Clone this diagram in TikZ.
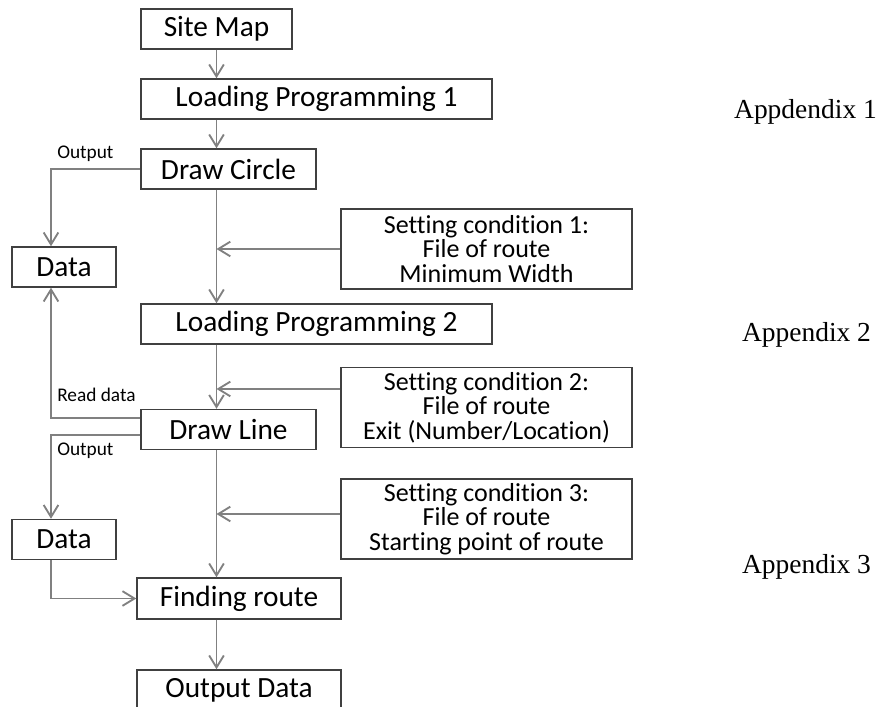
\documentclass[tikz,border=0pt]{standalone}
\usepackage{fontspec}
\setmainfont{Carlito}[Ligatures=NoCommon]
\newfontfamily\apxfont{Liberation Serif}
\usetikzlibrary{arrows.meta, positioning}
\definecolor{boxgray}{RGB}{64,64,64}
\definecolor{linegray}{RGB}{128,128,128}

\begin{document}
\begin{tikzpicture}[
      x=0.75pt, y=-0.75pt,
      box/.style={rectangle, draw=boxgray, line width=1.1pt, inner sep=0pt,
                  font=\fontsize{22}{24}\selectfont, minimum height=30pt},
      setbox/.style={rectangle, draw=boxgray, line width=1.1pt, inner sep=0pt,
                     font=\fontsize{19.5}{18.5}\selectfont, align=center,
                     minimum width=218.25pt, minimum height=60pt},
      lbl/.style={font=\fontsize{14.5}{16}\selectfont, inner sep=0pt, anchor=west},
      apx/.style={font=\apxfont\fontsize{20.6}{22}\selectfont, inner sep=0pt},
      arr/.style={-{Straight Barb[length=9pt,width=11pt]}, draw=linegray, line width=1.4pt},
      ]
    \useasboundingbox (0,0) rectangle (884,706);
    \clip (0,0) rectangle (884,706);

    \node[box, minimum width=113.25pt] (smap) at (216.5,29) {Site Map};
    \node[box, minimum width=263.25pt] (lp1) at (316.5,99) {Loading Programming 1};
    \node[box, minimum width=131.25pt] (dcircle) at (228.5,169) {Draw Circle};
    \node[box, minimum width=78pt] (data1) at (64,267) {Data};
    \node[setbox] (set1) at (486.5,249) {Setting condition 1:\\File of route\\Minimum Width};
    \node[box, minimum width=263.25pt] (lp2) at (316.5,324) {Loading Programming 2};
    \node[setbox] (set2) at (486.5,407.5) {Setting condition 2:\\File of route\\Exit (Number/Location)};
    \node[box, minimum width=131.25pt] (dline) at (228.5,429.5) {Draw Line};
    \node[setbox] (set3) at (486.5,519) {Setting condition 3:\\File of route\\Starting point of route};
    \node[box, minimum width=78pt] (data2) at (64,539.5) {Data};
    \node[box, minimum width=153pt, minimum height=30.75pt] (froute) at (239,598.5) {Finding route};
    \node[box, minimum width=153pt, minimum height=30.75pt] (odata) at (239,690.5) {Output Data};

    \node[lbl] (out1) at (57,154) {Output};
    \node[lbl] (rdata) at (57,395) {Read data};
    \node[lbl] (out2) at (57,451) {Output};

    \node[apx] (apx1) at (805.5,112) {Appdendix 1};
    \node[apx] (apx2) at (806.5,335) {Appendix 2};
    \node[apx] (apx3) at (806.5,567) {Appendix 3};

    \coordinate (s2in) at ([yshift=13.9pt]set2.west);
    \coordinate (s3in) at ([yshift=3.75pt]set3.west);
    \coordinate (rdout) at ([yshift=8.6pt]dline.west);
    \coordinate (o2out) at ([yshift=-4.1pt]dline.west);

    % main column
    \draw[arr] (smap.south) -- (smap.south |- lp1.north);
    \draw[arr] (smap.south |- lp1.south) -- (smap.south |- dcircle.north);
    \draw[arr] (smap.south |- dcircle.south) -- (smap.south |- lp2.north);
    \draw[arr] (smap.south |- lp2.south) -- (smap.south |- dline.north);
    \draw[arr] (smap.south |- dline.south) -- (smap.south |- froute.north);
    \draw[arr] (smap.south |- froute.south) -- (smap.south |- odata.north);

    % conditions
    \draw[arr] (set1.west) -- (set1.west -| smap.south);
    \draw[arr] (s2in) -- (s2in -| smap.south);
    \draw[arr] (s3in) -- (s3in -| smap.south);

    % data side
    \draw[arr] (dcircle.west) -| ([xshift=-9.75pt]data1.north);
    \draw[arr] (rdout) -| ([xshift=-9.75pt]data1.south);
    \draw[arr] (o2out) -| ([xshift=-9.75pt]data2.north);
    \draw[arr] ([xshift=-9.75pt]data2.south) |- (froute.west);
  \end{tikzpicture}
\end{document}
